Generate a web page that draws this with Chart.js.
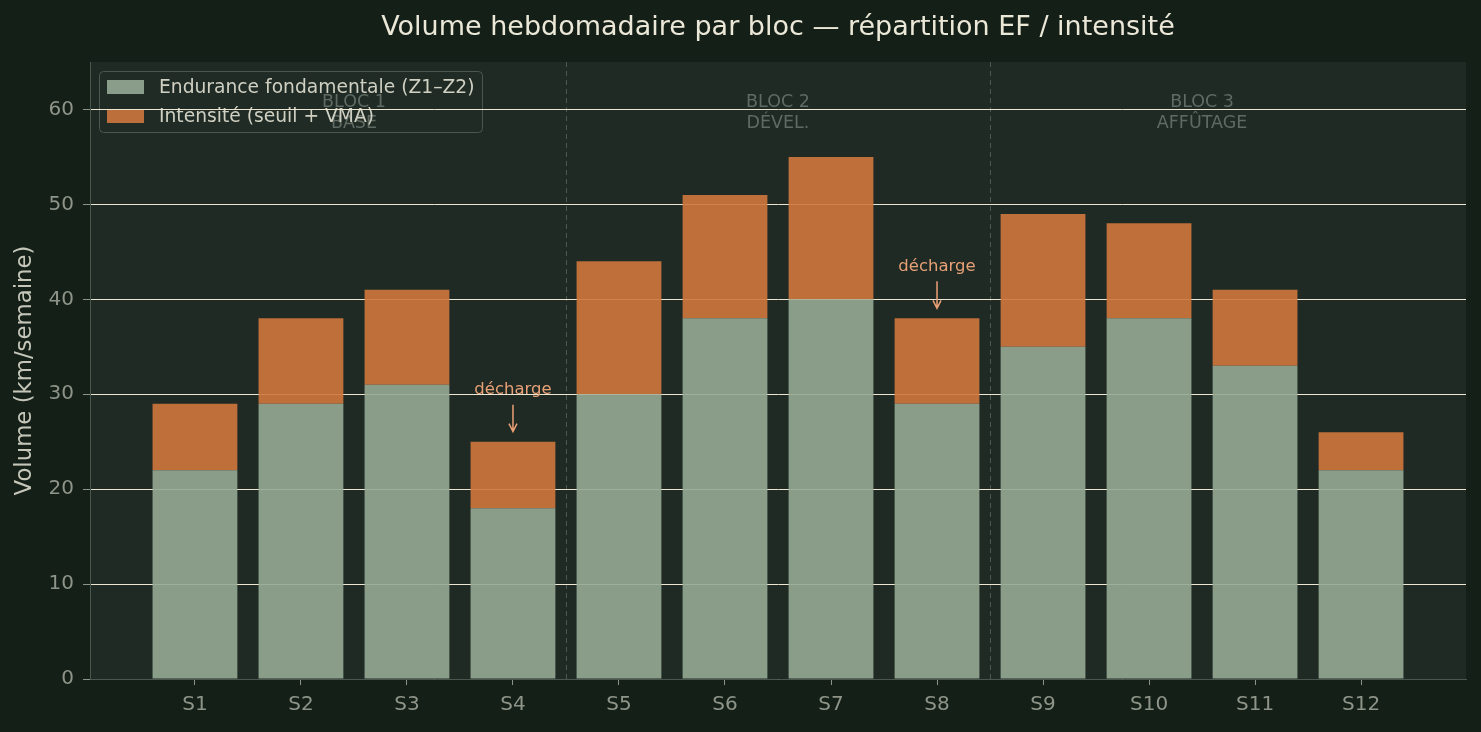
<!DOCTYPE html>
<html lang="fr">
<head>
    <meta charset="UTF-8">
    <title>Volume hebdomadaire par bloc</title>
    <script src="https://cdn.jsdelivr.net/npm/chart.js"></script>
    <style>
        html, body { margin: 0; padding: 0; background: #141f18; }
        #wrap { width: 1481px; height: 732px; }
    </style>
</head>
<body>
<div id="wrap"><canvas id="graf"></canvas></div>
<script>
    // données
    const semaines = ['S1','S2','S3','S4','S5','S6','S7','S8','S9','S10','S11','S12'];
    const endurance = [22, 29, 31, 18, 30, 38, 40, 29, 35, 38, 33, 22];
    const intensite = [7, 9, 10, 7, 14, 13, 15, 9, 14, 10, 8, 4];
    const blocs = [
        { titre: 'BLOC 1', sous: 'BASE', centre: 1.5 },
        { titre: 'BLOC 2', sous: 'DÉVEL.', centre: 5.5 },
        { titre: 'BLOC 3', sous: 'AFFÛTAGE', centre: 9.5 }
    ];
    const separations = [3.5, 7.5];
    const decharges = [3, 7]; // index des semaines de décharge

    const POLICE = "'DejaVu Sans', sans-serif";
    const couleurs = {
        fond: '#141f18',
        zone: '#1f2a25',
        ef: 'rgba(150, 170, 149, 0.9)',
        efLeg: '#8a9d8a',
        int: 'rgba(207, 119, 61, 0.9)',
        intLeg: '#bd6f3b',
        grille: '#ece6d2',
        axe: '#4b564e',
        ticks: '#8e9488',
        note: '#e8a075'
    };

    const fondPlugin = {
        id: 'fond',
        beforeDraw(chart) {
            const { ctx, chartArea: a, scales } = chart;
            ctx.save();
            ctx.fillStyle = couleurs.fond;
            ctx.fillRect(0, 0, chart.width, chart.height);
            ctx.fillStyle = couleurs.zone;
            ctx.fillRect(a.left, a.top, a.right - a.left, a.bottom - a.top);

            // séparations des blocs
            ctx.strokeStyle = '#4d5850';
            ctx.lineWidth = 1;
            ctx.setLineDash([5, 4]);
            separations.forEach(s => {
                const x = Math.round(scales.x.getPixelForValue(s)) + 0.5;
                ctx.beginPath();
                ctx.moveTo(x, a.top);
                ctx.lineTo(x, a.bottom);
                ctx.stroke();
            });
            ctx.setLineDash([]);

            // légende (cadre semi-transparent)
            const lx = a.left + 9, ly = a.top + 9, lw = 383, lh = 61;
            ctx.fillStyle = 'rgba(34, 45, 40, 0.6)';
            ctx.strokeStyle = '#4b564e';
            ctx.beginPath();
            ctx.roundRect(lx + 0.5, ly + 0.5, lw, lh, 4);
            ctx.fill();
            ctx.stroke();

            // noms des blocs (visibles à travers la légende)
            ctx.fillStyle = '#5f6a62';
            ctx.font = '17.5px ' + POLICE;
            ctx.textAlign = 'center';
            ctx.textBaseline = 'middle';
            blocs.forEach(b => {
                const x = scales.x.getPixelForValue(b.centre);
                ctx.fillText(b.titre, x, a.top + 40);
                ctx.fillText(b.sous, x, a.top + 61);
            });

            ctx.textAlign = 'left';
            ctx.font = '18.7px ' + POLICE;
            chart.data.datasets.forEach((ds, i) => {
                const y = ly + 16 + i * 29;
                ctx.fillStyle = i === 0 ? couleurs.efLeg : couleurs.intLeg;
                ctx.fillRect(lx + 8, y - 7, 37, 14);
                ctx.fillStyle = '#cfd0c2';
                ctx.fillText(ds.label, lx + 60, y + 1);
            });
            ctx.restore();
        },
        afterDatasetsDraw(chart) {
            const { ctx, scales } = chart;
            ctx.save();
            ctx.fillStyle = couleurs.note;
            ctx.strokeStyle = couleurs.note;
            ctx.lineWidth = 1.5;
            ctx.font = '16.5px ' + POLICE;
            ctx.textAlign = 'center';
            ctx.textBaseline = 'middle';
            decharges.forEach(i => {
                const x = scales.x.getPixelForValue(i);
                const haut = scales.y.getPixelForValue(endurance[i] + intensite[i]);
                ctx.fillText('décharge', x, haut - 52);
                const tip = haut - 10;
                ctx.beginPath();
                ctx.moveTo(x, haut - 37);
                ctx.lineTo(x, tip);
                ctx.moveTo(x - 4, tip - 8);
                ctx.lineTo(x, tip);
                ctx.lineTo(x + 4, tip - 8);
                ctx.stroke();
            });
            ctx.restore();
        }
    };

    new Chart(document.getElementById('graf'), {
        type: 'bar',
        data: {
            datasets: [
                {
                    label: 'Endurance fondamentale (Z1–Z2)',
                    data: endurance.map((v, i) => ({ x: i, y: v })),
                    backgroundColor: couleurs.ef,
                    borderWidth: 0,
                    categoryPercentage: 0.8,
                    barPercentage: 1
                },
                {
                    label: 'Intensité (seuil + VMA)',
                    data: intensite.map((v, i) => ({ x: i, y: v })),
                    backgroundColor: couleurs.int,
                    borderWidth: 0,
                    categoryPercentage: 0.8,
                    barPercentage: 1
                }
            ]
        },
        options: {
            responsive: true,
            maintainAspectRatio: false,
            animation: false,
            layout: { padding: { left: 0, right: 15, top: 0, bottom: 0 } },
            scales: {
                x: {
                    type: 'linear',
                    stacked: true,
                    offset: false,
                    min: -0.99,
                    max: 11.99,
                    afterBuildTicks(scale) {
                        scale.ticks = semaines.map((s, i) => ({ value: i }));
                    },
                    afterFit(scale) { scale.height = 53; },
                    grid: {
                        offset: false,
                        drawOnChartArea: false,
                        tickLength: 6,
                        tickColor: couleurs.ticks
                    },
                    border: { color: couleurs.axe },
                    ticks: {
                        color: couleurs.ticks,
                        font: { family: POLICE, size: 20 },
                        padding: 8,
                        maxRotation: 0,
                        autoSkip: false,
                        callback: v => semaines[v]
                    }
                },
                y: {
                    stacked: true,
                    min: 0,
                    max: 65,
                    afterBuildTicks(scale) {
                        scale.ticks = [0, 10, 20, 30, 40, 50, 60].map(v => ({ value: v }));
                    },
                    afterFit(scale) { scale.width = 90; },
                    grid: {
                        color: couleurs.grille,
                        lineWidth: 1,
                        tickLength: 7,
                        tickColor: couleurs.ticks
                    },
                    border: { color: couleurs.axe },
                    ticks: {
                        color: couleurs.ticks,
                        font: { family: POLICE, size: 20 },
                        padding: 9
                    },
                    title: {
                        display: true,
                        text: 'Volume (km/semaine)',
                        color: '#c5c6b8',
                        font: { family: POLICE, size: 22.8 },
                        padding: { top: 11, bottom: 0 }
                    }
                }
            },
            plugins: {
                legend: { display: false },
                tooltip: { enabled: false },
                title: {
                    display: true,
                    fullSize: false,
                    text: 'Volume hebdomadaire par bloc — répartition EF / intensité',
                    color: '#ece8d8',
                    font: { family: POLICE, size: 27, weight: 'normal' },
                    padding: { top: 11.8, bottom: 17.8 }
                }
            }
        },
        plugins: [fondPlugin]
    });
</script>
</body>
</html>
